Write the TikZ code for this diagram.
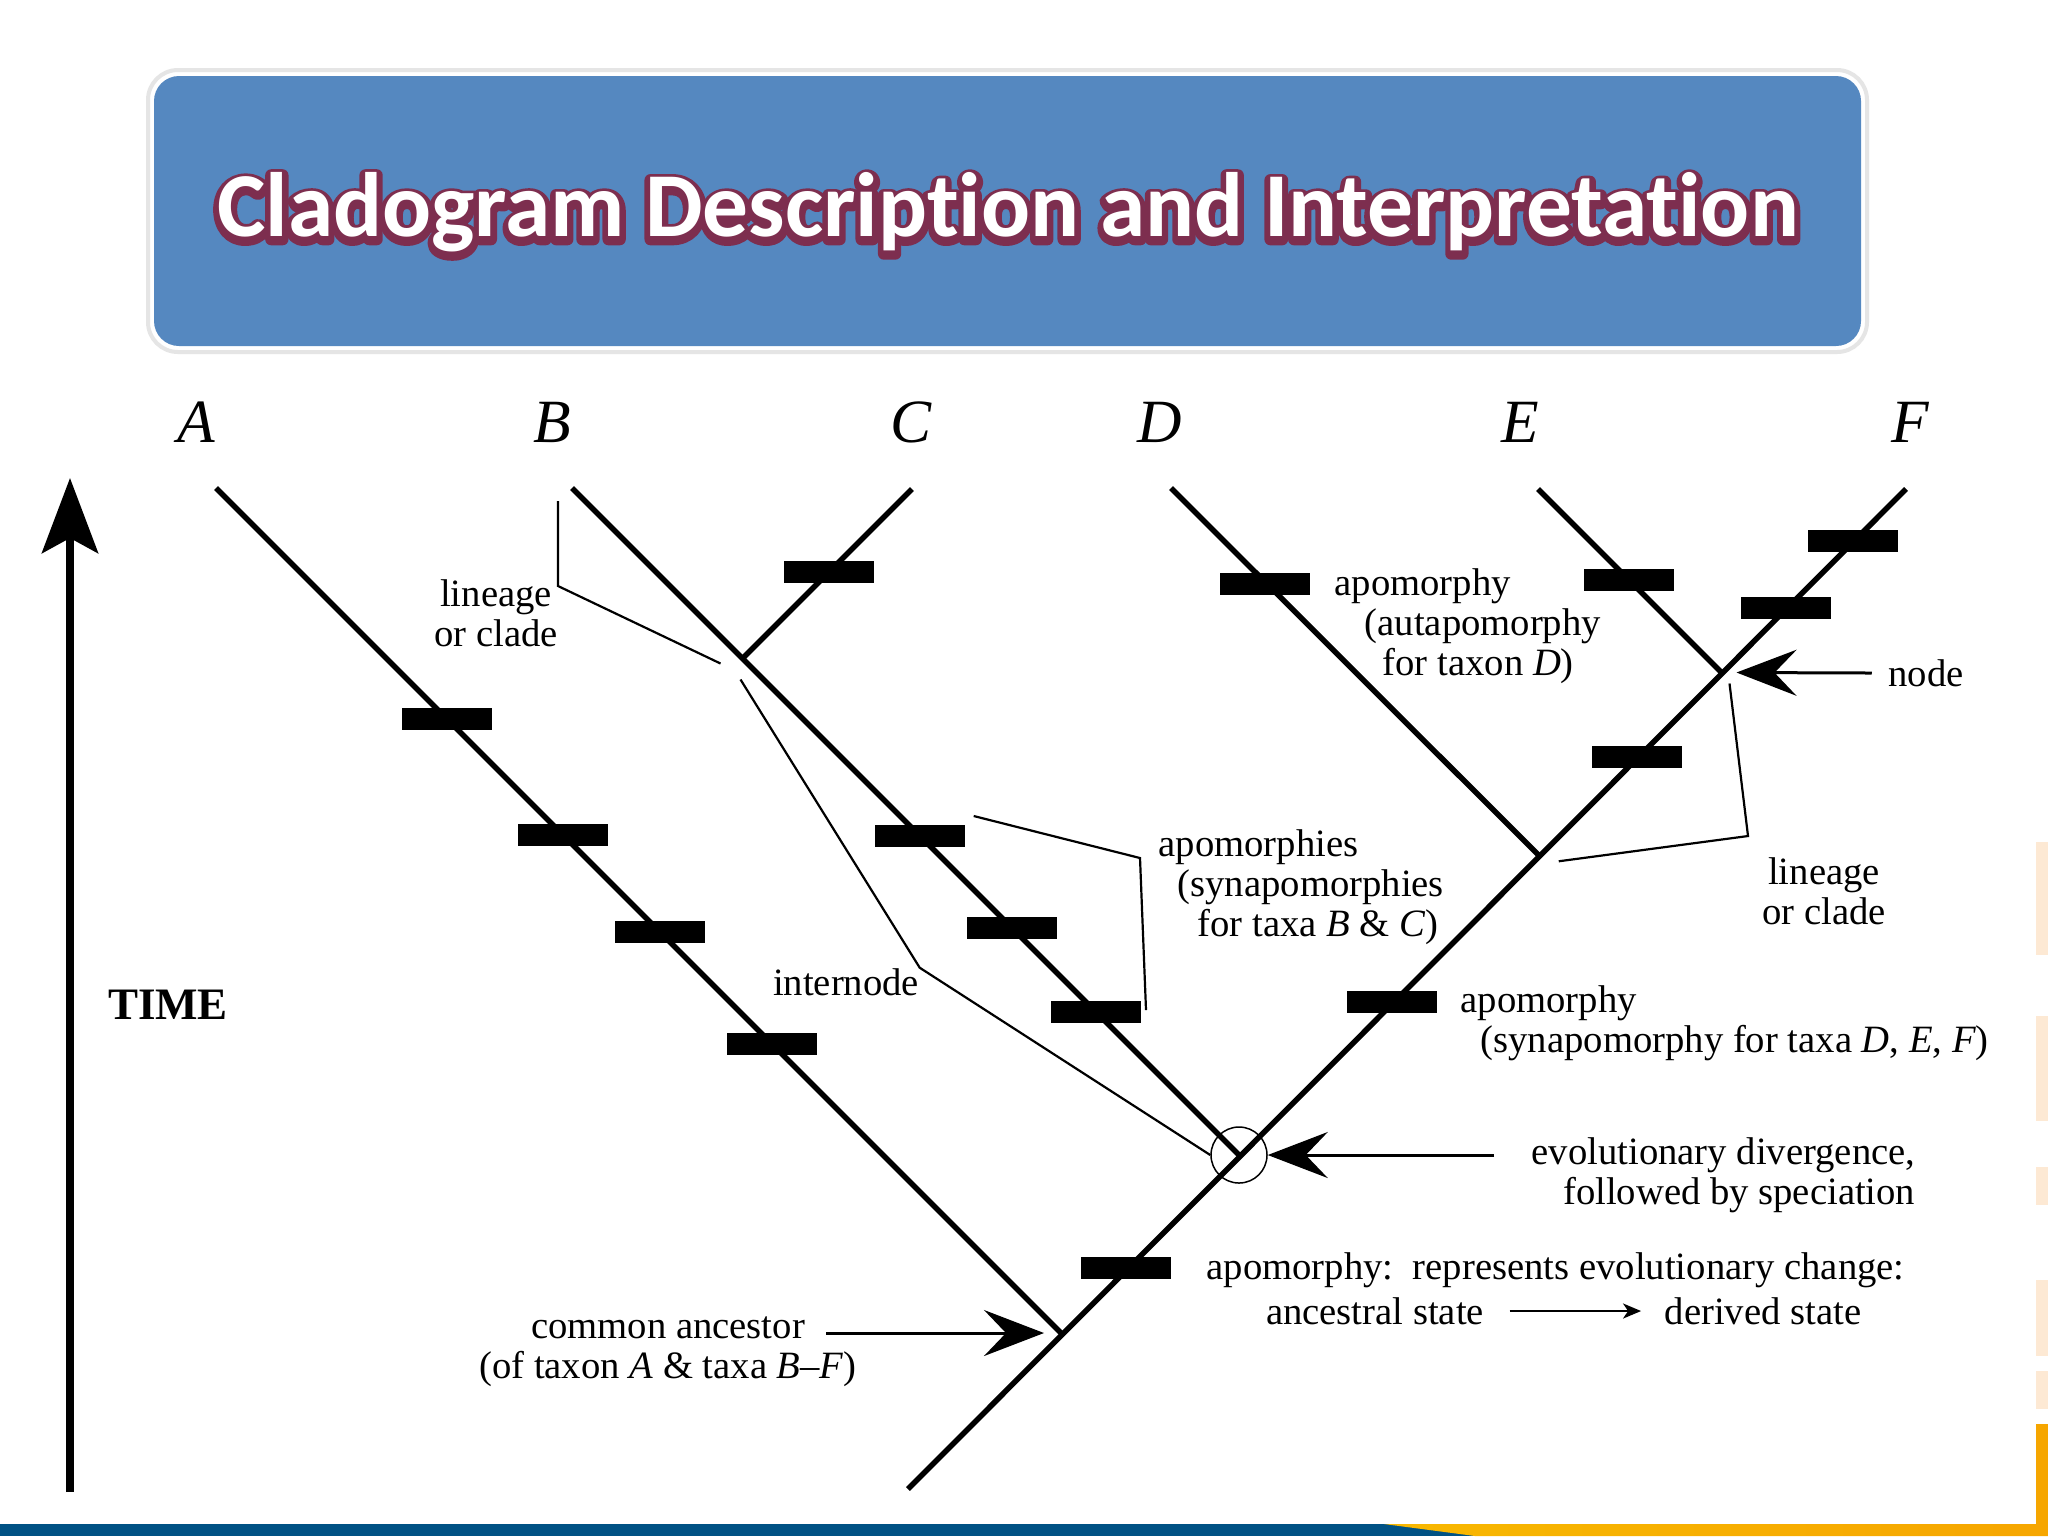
\documentclass[tikz,border=0pt]{standalone}
\usepackage{fontspec}
\setmainfont{Liberation Serif}
\newfontfamily\titlefont[Ligatures=NoCommon]{Carlito}
\usetikzlibrary{arrows.meta}
\definecolor{boxblue}{RGB}{85,136,192}
\definecolor{glow}{RGB}{125,45,78}
\definecolor{barblue}{RGB}{0,82,132}
\definecolor{barorange}{RGB}{246,166,0}
\definecolor{peach}{RGB}{253,233,212}
\newcommand{\glowon}{\special{pdf:literal direct 2 Tr 3.4 w 1 j 0.49 0.18 0.31 RG}}
\newcommand{\glowoff}{\special{pdf:literal direct 0 Tr}}
\tikzset{
	branch/.style={line width=0.55mm},
	apo/.style={rectangle,fill=black,minimum width=9mm,minimum height=2.2mm,inner sep=0pt},
	lbl/.style={font=\fontsize{11}{11.3}\selectfont,inner sep=0pt},
	taxon/.style={font=\fontsize{17.5}{20}\selectfont\itshape,inner sep=0pt},
	timelbl/.style={font=\fontsize{12.8}{14}\selectfont\bfseries,inner sep=0pt},
	titletext/.style={font=\titlefont\bfseries\fontsize{26}{28}\selectfont,inner sep=0pt},
	leader/.style={line width=0.22mm},
	bigarrow/.style={line width=0.3mm,-{Stealth[length=6mm,width=4.6mm,inset=2.2mm]}},
	timearrow/.style={line width=0.8mm,-{Stealth[length=7.5mm,width=5.6mm,inset=1.5mm]}},
	smallarrow/.style={line width=0.25mm,-{Stealth[length=1.8mm,width=1.5mm,inset=0.5mm]},shorten <=2.5mm,shorten >=2.3mm},
}
\begin{document}
\begin{tikzpicture}[x=0.1mm,y=-0.1mm]
	\useasboundingbox (0,0) rectangle (2048,1536);
	\fill[white] (0,0) rectangle (2048,1536);

	\fill[barblue] (0,1524) rectangle (2048,1536);
	\shade[left color=barorange!80!yellow,right color=barorange] (1384,1524) -- (2048,1524) -- (2048,1536) -- (1475,1536) -- cycle;
	\fill[barorange] (2036,1424) rectangle (2048,1524);
	\foreach \ya/\yb in {842/955,1016/1121,1167/1205,1280/1356,1371/1409}
		\fill[peach] (2036,\ya) rectangle (2048,\yb);

	\node (lA) at (196,422)[taxon]{A};
	\node (lB) at (552,422)[taxon]{B};
	\node (lC) at (911,422)[taxon]{C};
	\node (lD) at (1160,422)[taxon]{D};
	\node (lE) at (1520,422)[taxon]{E};
	\node (lF) at (1910,422)[taxon]{F};

	\coordinate (tA) at (216,488);
	\coordinate (tB) at (572,488);
	\coordinate (tC) at (912,489);
	\coordinate (tD) at (1171,488);
	\coordinate (tE) at (1538,489);
	\coordinate (tF) at (1906,489);
	\coordinate (root) at (908,1489);
	\coordinate (nA) at (1061,1333);
	\coordinate (nB) at (1239,1155);
	\coordinate (nC) at (742.5,658.5);
	\coordinate (nD) at (1538.75,855.25);
	\coordinate (nE) at (1721.5,672.5);

	\draw[branch] (root) -- (tF);
	\draw[branch] (tA) -- (nA);
	\draw[branch] (tB) -- (nB);
	\draw[branch] (nC) -- (tC);
	\draw[branch] (tD) -- (nD);
	\draw[branch] (tE) -- (nE);

	\foreach \y in {719,835,932,1044}
		\node (barA\y) at ({\y-272},\y)[apo]{};
	\foreach \y in {836,928,1012}
		\node (barB\y) at ({\y+84},\y)[apo]{};
	\node (barC) at (829,572)[apo]{};
	\node (barD) at (1265,584)[apo]{};
	\node (barE) at (1629,580)[apo]{};
	\foreach \y in {541,608,757,1002,1268}
		\node (barF\y) at ({2394-\y},\y)[apo]{};

	\node (div) at (nB)[circle,draw,minimum size=5.6mm,inner sep=0pt,line width=0.15mm]{};

	\node (linL) at (496,613)[lbl,align=center]{lineage\\or clade};
	\node (intn) at (846,982)[lbl]{internode};
	\node (synBC) at (1158,887)[lbl,anchor=west,align=left]{apomorphies\\\hspace*{1.9mm}(synapomorphies\\\hspace*{3.9mm}for taxa \textit{B} \& \textit{C})};
	\node (autD) at (1334,626)[lbl,anchor=west,align=left]{apomorphy\\\hspace*{3mm}(autapomorphy\\\hspace*{4.8mm}for taxon \textit{D})};
	\node (nodelbl) at (1926,673)[lbl]{node};
	\node (linR) at (1824,891)[lbl,align=center]{lineage\\or clade};
	\node (synDEF) at (1460,1023)[lbl,anchor=west,align=left]{apomorphy\\\hspace*{2mm}(synapomorphy for taxa \textit{D}, \textit{E}, \textit{F})};
	\node (divlbl) at (1916,1175)[lbl,anchor=east,align=right]{evolutionary divergence,\\followed by speciation};
	\node (apolbl) at (1206,1270)[lbl,anchor=west]{apomorphy:\ \ represents evolutionary change:};
	\node (anc) at (1375,1311)[lbl]{ancestral state};
	\node (der) at (1763,1311)[lbl]{derived state};
	\node (comm) at (668,1352)[lbl,align=center]{common ancestor\\(of taxon \textit{A} \& taxa \textit{B}--\textit{F})};
	\node (time) at (168,1005)[timelbl]{TIME};

	\coordinate (timebot) at (70,1492);
	\coordinate (timetop) at (70,478);
	\draw[timearrow] (timebot) -- (timetop);

	\coordinate (anctail) at (826,1333);
	\coordinate (divtail) at (1494,1155);
	\draw[bigarrow] (anctail) -- ([xshift=-1.7mm]nA);
	\draw[bigarrow] ([xshift=-1.6mm]nodelbl.west) -- ([xshift=1.5mm]nE);
	\draw[bigarrow] (divtail) -- (div.east);
	\draw[smallarrow] (anc) -- (der);

	\coordinate (lL1) at (558,501);
	\coordinate (lL2) at (558,586);
	\coordinate (bBC1) at (1140,858);
	\coordinate (bBC2) at (1146,1010);
	\coordinate (lR1) at (1748,836);
	\draw[leader] (lL1) -- (lL2) -- ([shift={(-22,5)}]nC);
	\draw[leader] ([shift={(-2,21)}]nC) -- (intn.north east) -- (div.west);
	\draw[leader] ([shift={(8,-20)}]barB836.east) -- (bBC1) -- (bBC2);
	\draw[leader] ([shift={(20,6)}]nD) -- (lR1) -- ([shift={(8,11)}]nE);

	\draw[gray!20,line width=0.4mm,rounded corners=3mm] (148,70) rectangle (1867,352);
	\fill[boxblue,rounded corners=2.5mm] (154,76) rectangle (1861,346);
	\node (titleglow) at (1008,215)[titletext,text=glow]{\glowon Cladogram Description and Interpretation\glowoff};
	\node (title) at (1008,212)[titletext,text=white]{Cladogram Description and Interpretation};
\end{tikzpicture}
\end{document}
